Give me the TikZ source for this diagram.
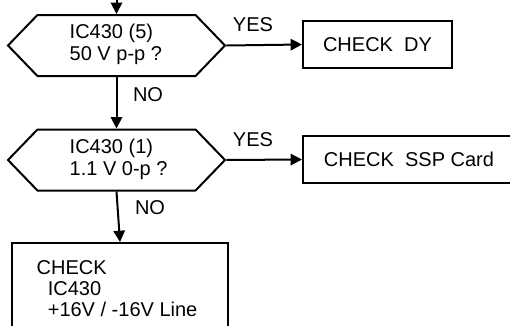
\documentclass[tikz,border=0pt]{standalone}
\usepackage{fontspec}
\setmainfont{Liberation Sans}
\usetikzlibrary{shapes.symbols,arrows.meta}

\begin{document}
\begin{tikzpicture}[x=0.75pt,y=0.75pt,yscale=-1,xscale=1,
  font=\fontsize{15}{16.5}\selectfont,
  decision/.style={draw,line width=1.5pt,signal,signal to=west and east,signal pointer angle=92,minimum width=162.75pt,minimum height=45.75pt,inner sep=0pt},
  checkbox/.style={draw,line width=1.5pt,rectangle,inner sep=0pt},
  flow/.style={line width=1.5pt,-{Triangle[length=8.5pt,width=8.5pt]}}]
\useasboundingbox (0,0) rectangle (510,325);

%Shape: Hexagon [id:q1] 
\draw (116.5,45.5) node [decision] (q1) {};
%Shape: Hexagon [id:q2] 
\draw (116.5,160) node [decision] (q2) {};

%Shape: Rectangle [id:dy] 
\draw (377.5,44.5) node [checkbox,minimum width=111.75pt,minimum height=35.25pt] (dy) {CHECK\ \ DY};
%Shape: Rectangle [id:ssp] 
\draw (409,159.5) node [checkbox,minimum width=159pt,minimum height=35.25pt] (ssp) {CHECK\ \ SSP Card};
%Shape: Rectangle [id:line] 
\draw (120,287) node [checkbox,minimum width=162pt,minimum height=66pt] (line) {};

% Text Node
\draw (65,44) node [anchor=west,align=left] (q1txt) {IC430 (5)\\50 V p-p ?};
% Text Node
\draw (65,159) node [anchor=west,align=left] (q2txt) {IC430 (1)\\1.1 V 0-p ?};
% Text Node
\draw (32,289) node [anchor=west,align=left,font=\fontsize{15}{15.75}\selectfont] (linetxt) {CHECK\\\ \ IC430\\\ \ +16V / -16V Line};

%Straight Lines 
\coordinate (top) at (116.5,-2);
\draw [flow] (top) -- (q1.north);
\draw [flow] (q1.south) -- (q2.north);
\draw [flow] (q2.south) -- (line.north);
\draw [flow] (q1.east) -- (dy.west);
\draw [flow] (q2.east) -- (ssp.west);

% Text Node
\draw (148,95) node (no1) {NO};
% Text Node
\draw (150,208) node (no2) {NO};
% Text Node
\draw (253,25) node (yes1) {YES};
% Text Node
\draw (253,140) node (yes2) {YES};

\end{tikzpicture}
\end{document}
